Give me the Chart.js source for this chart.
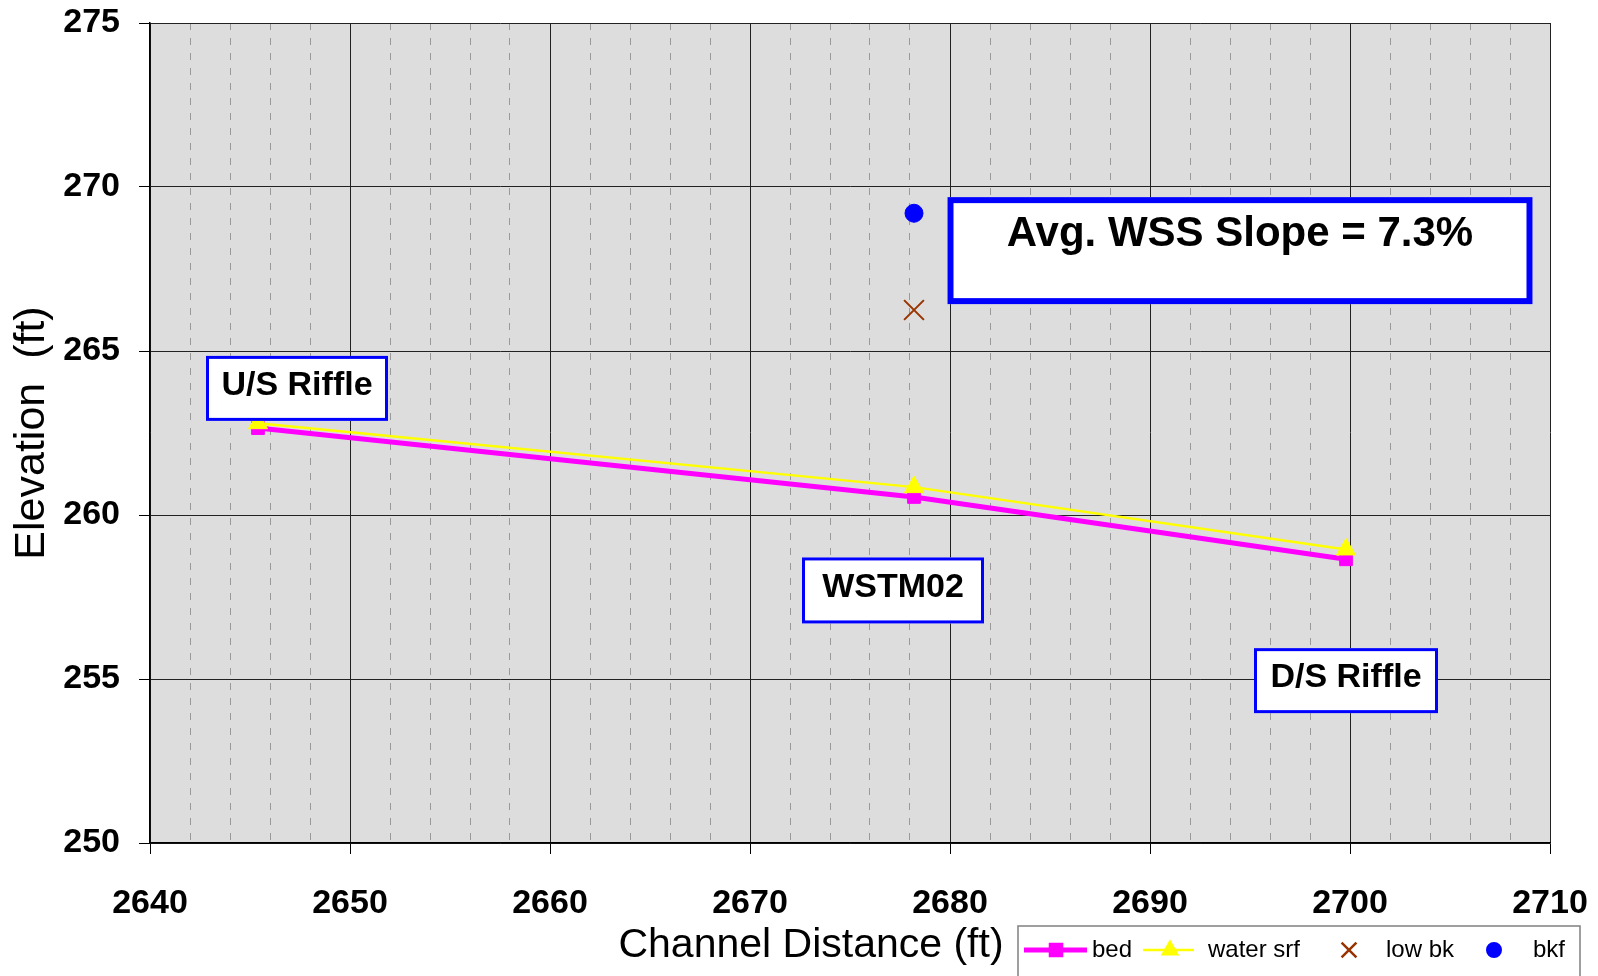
<!DOCTYPE html>
<html>
<head>
<meta charset="utf-8">
<script src="https://cdn.jsdelivr.net/npm/chart.js@4.4.1/dist/chart.umd.min.js"></script>
<style>
  html, body { margin: 0; padding: 0; background: #fff; }
  #wrap { width: 1598px; height: 976px; }
</style>
</head>
<body>
<div id="wrap"><canvas id="profile" width="1598" height="976"></canvas></div>
<script>
// survey points along the reach
const bedX = [2645.4, 2678.2, 2699.8];
const bedY = [262.65, 260.55, 258.65];
const waterX = [2645.4, 2678.2, 2699.8];
const waterY = [262.8, 260.85, 258.95];
const lowBkX = [2678.2];
const lowBkY = [266.25];
const bkfX = [2678.2];
const bkfY = [269.2];

const seriesNames = ['bed', 'water srf', 'low bk', 'bkf'];
const xTicks = [2640, 2650, 2660, 2670, 2680, 2690, 2700, 2710];
const yTicks = [250, 255, 260, 265, 270, 275];

// text boxes, anchored in data units
const noteTexts = ['U/S Riffle', 'WSTM02', 'D/S Riffle', 'Avg. WSS Slope = 7.3%'];
const noteX = [2647.35, 2677.15, 2699.8, 2694.5];
const noteY = [263.86, 257.7, 254.95, 268.06];

const FONT = "'Liberation Sans', Arial, sans-serif";

function pts(xs, ys) {
  return xs.map((x, i) => ({ x: x, y: ys[i] }));
}

const isMajor = v => xTicks.indexOf(Math.round(v)) !== -1 && Math.abs(v - Math.round(v)) < 1e-6;

// box look: width, height, border, font size, text shift
const noteStyle = [
  { w: 182, h: 65, lw: 3, size: 34, dy: -3 },
  { w: 182, h: 66, lw: 3, size: 34, dy: -3 },
  { w: 184, h: 65, lw: 3, size: 34, dy: -3 },
  { w: 585, h: 107, lw: 6, size: 42, dy: -16 }
];

const plotBg = {
  id: 'plotBg',
  beforeDraw(chart) {
    const a = chart.chartArea, c = chart.ctx;
    c.save();
    c.fillStyle = '#dddddd';
    c.fillRect(a.left, a.top, a.right - a.left, a.bottom - a.top);
    c.restore();
  }
};

const notes = {
  id: 'notes',
  afterDatasetsDraw(chart) {
    const c = chart.ctx, sx = chart.scales.x, sy = chart.scales.y;
    c.save();
    noteTexts.forEach((t, i) => {
      const s = noteStyle[i];
      const cx = sx.getPixelForValue(noteX[i]);
      const cy = sy.getPixelForValue(noteY[i]);
      const l = cx - s.w / 2, tp = cy - s.h / 2;
      c.fillStyle = '#fff';
      c.fillRect(l, tp, s.w, s.h);
      c.strokeStyle = '#0000ff';
      c.lineWidth = s.lw;
      c.strokeRect(l + s.lw / 2, tp + s.lw / 2, s.w - s.lw, s.h - s.lw);
      c.fillStyle = '#000';
      c.font = 'bold ' + s.size + 'px ' + FONT;
      c.textAlign = 'center';
      c.textBaseline = 'middle';
      c.fillText(t, cx, cy + s.dy);
    });
    c.restore();
  }
};

// x title sits left of centre because the legend takes the bottom right
const bottomStuff = {
  id: 'bottomStuff',
  afterDraw(chart) {
    const c = chart.ctx;
    const h = Chart.helpers;
    c.save();
    c.fillStyle = '#000';
    c.font = '41px ' + FONT;
    c.textAlign = 'center';
    c.textBaseline = 'middle';
    c.fillText('Channel Distance (ft)', 811, 946);

    c.fillStyle = '#fff';
    c.fillRect(1018, 926, 562, 60);
    c.strokeStyle = '#808080';
    c.lineWidth = 1.5;
    c.strokeRect(1018, 926, 562, 60);

    const ds = chart.data.datasets;
    const yc = 950;
    const items = [
      { line: [1024, 1087], mark: 1056, text: 1092 },
      { line: [1143, 1194], mark: 1170, text: 1208 },
      { line: null, mark: 1349, text: 1386 },
      { line: null, mark: 1494, text: 1533 }
    ];
    c.font = '24px ' + FONT;
    c.textAlign = 'left';
    items.forEach((it, i) => {
      const d = ds[i];
      if (it.line) {
        c.strokeStyle = d.borderColor;
        c.lineWidth = d.borderWidth;
        c.beginPath();
        c.moveTo(it.line[0], yc);
        c.lineTo(it.line[1], yc);
        c.stroke();
      }
      c.fillStyle = d.pointBackgroundColor;
      c.strokeStyle = d.pointBorderColor;
      h.drawPoint(c, {
        pointStyle: d.pointStyle,
        radius: d.pointRadius * 0.75,
        rotation: 0,
        borderWidth: d.pointBorderWidth
      }, it.mark, yc);
      c.fillStyle = '#000';
      c.fillText(seriesNames[i], it.text, yc);
    });
    c.restore();
  }
};

new Chart(
  document.getElementById('profile'),
  {
    type: 'scatter',
    plugins: [plotBg, notes, bottomStuff],
    data: {
      datasets: [
        {
          label: seriesNames[0],
          data: pts(bedX, bedY),
          showLine: true,
          borderColor: '#ff00ff',
          borderWidth: 5,
          pointStyle: 'rect',
          pointRadius: 9,
          pointBackgroundColor: '#ff00ff',
          pointBorderColor: '#ff00ff',
          pointBorderWidth: 1,
          order: 2
        },
        {
          label: seriesNames[1],
          data: pts(waterX, waterY),
          showLine: true,
          borderColor: '#ffff00',
          borderWidth: 2.5,
          pointStyle: 'triangle',
          pointRadius: 11,
          pointBackgroundColor: '#ffff00',
          pointBorderColor: '#ffff00',
          pointBorderWidth: 1,
          order: 1
        },
        {
          label: seriesNames[2],
          data: pts(lowBkX, lowBkY),
          pointStyle: 'crossRot',
          pointRadius: 14,
          borderColor: '#993300',
          pointBackgroundColor: '#993300',
          pointBorderColor: '#993300',
          pointBorderWidth: 2,
          order: 0
        },
        {
          label: seriesNames[3],
          data: pts(bkfX, bkfY),
          pointStyle: 'circle',
          pointRadius: 9,
          borderColor: '#0000ff',
          pointBackgroundColor: '#0000ff',
          pointBorderColor: '#0000ff',
          pointBorderWidth: 1,
          order: 0
        }
      ]
    },
    options: {
      responsive: false,
      animation: false,
      layout: { padding: { top: 23, right: 48, bottom: 0, left: 0 } },
      plugins: {
        legend: { display: false },
        tooltip: { enabled: false }
      },
      scales: {
        x: {
          type: 'linear',
          min: xTicks[0],
          max: xTicks[xTicks.length - 1],
          afterFit: s => { s.height = 133; s.paddingLeft = 0; s.paddingRight = 0; },
          ticks: {
            stepSize: 2,
            autoSkip: false,
            maxRotation: 0,
            padding: 29,
            color: '#000',
            font: { family: FONT, size: 34, weight: 'bold' },
            callback: v => isMajor(v) ? String(Math.round(v)) : ''
          },
          grid: {
            color: ctx => (ctx.tick && !isMajor(ctx.tick.value)) ? '#9a9a9a' : '#222',
            lineWidth: 1,
            tickLength: 11,
            tickColor: ctx => (ctx.tick && isMajor(ctx.tick.value)) ? '#000' : 'rgba(0,0,0,0)'
          },
          border: {
            color: '#000',
            width: 1.5,
            dash: ctx => (ctx.tick && !isMajor(ctx.tick.value)) ? [7, 8] : []
          },
          title: { display: false }
        },
        y: {
          min: yTicks[0],
          max: yTicks[yTicks.length - 1],
          afterFit: s => { s.width = 150; s.paddingTop = 0; s.paddingBottom = 0; },
          ticks: {
            stepSize: 5,
            padding: 19,
            color: '#000',
            font: { family: FONT, size: 34, weight: 'bold' }
          },
          grid: {
            color: '#222',
            lineWidth: 1,
            tickLength: 11,
            tickColor: '#000'
          },
          border: { color: '#000', width: 1.5 },
          title: {
            display: true,
            text: 'Elevation  (ft)',
            color: '#000',
            padding: { top: 6, bottom: 0 },
            font: { family: FONT, size: 43 }
          }
        }
      }
    }
  }
);
</script>
</body>
</html>
